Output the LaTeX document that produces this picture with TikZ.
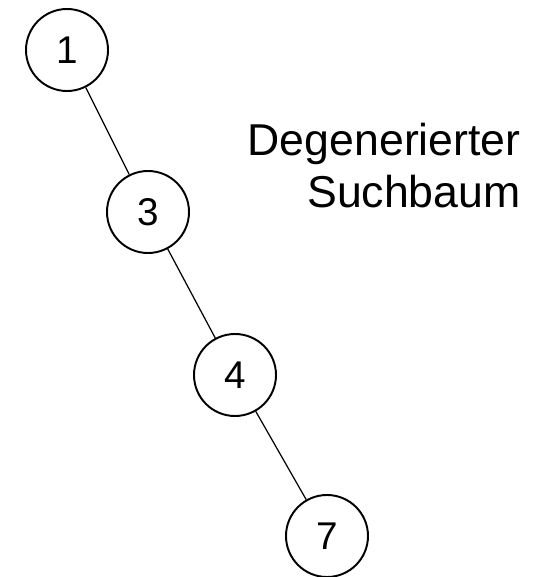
\documentclass[tikz,border=0pt]{standalone}
\usepackage{fontspec}
\setmainfont{Liberation Sans}
\usepackage{tikz}

\begin{document}
\begin{tikzpicture}[vertex/.style = {circle, draw, line width=1.1pt, minimum size=1.64cm, inner sep=0pt, font=\fontsize{22}{26}\selectfont}]
        % Frame
        \useasboundingbox (0,0) rectangle (10.72,11.54);

        % Nodes of the tree
        \node[vertex] (n1) at (1.34,10.54) {1};
        \node[vertex] (n3) at (2.96,7.30) {3};
        \node[vertex] (n4) at (4.70,4.04) {4};
        \node[vertex] (n7) at (6.54,0.82) {7};

        % Edges
        \draw[line width=0.7pt] (n1) -- (n3);
        \draw[line width=0.7pt] (n3) -- (n4);
        \draw[line width=0.7pt] (n4) -- (n7);

        % Caption (base = last line)
        \node[anchor=base east, align=right, inner sep=0pt, font=\fontsize{25.4}{30}\selectfont] (title) at (10.42,7.38) {Degenerierter\\Suchbaum};
\end{tikzpicture}
\end{document}
